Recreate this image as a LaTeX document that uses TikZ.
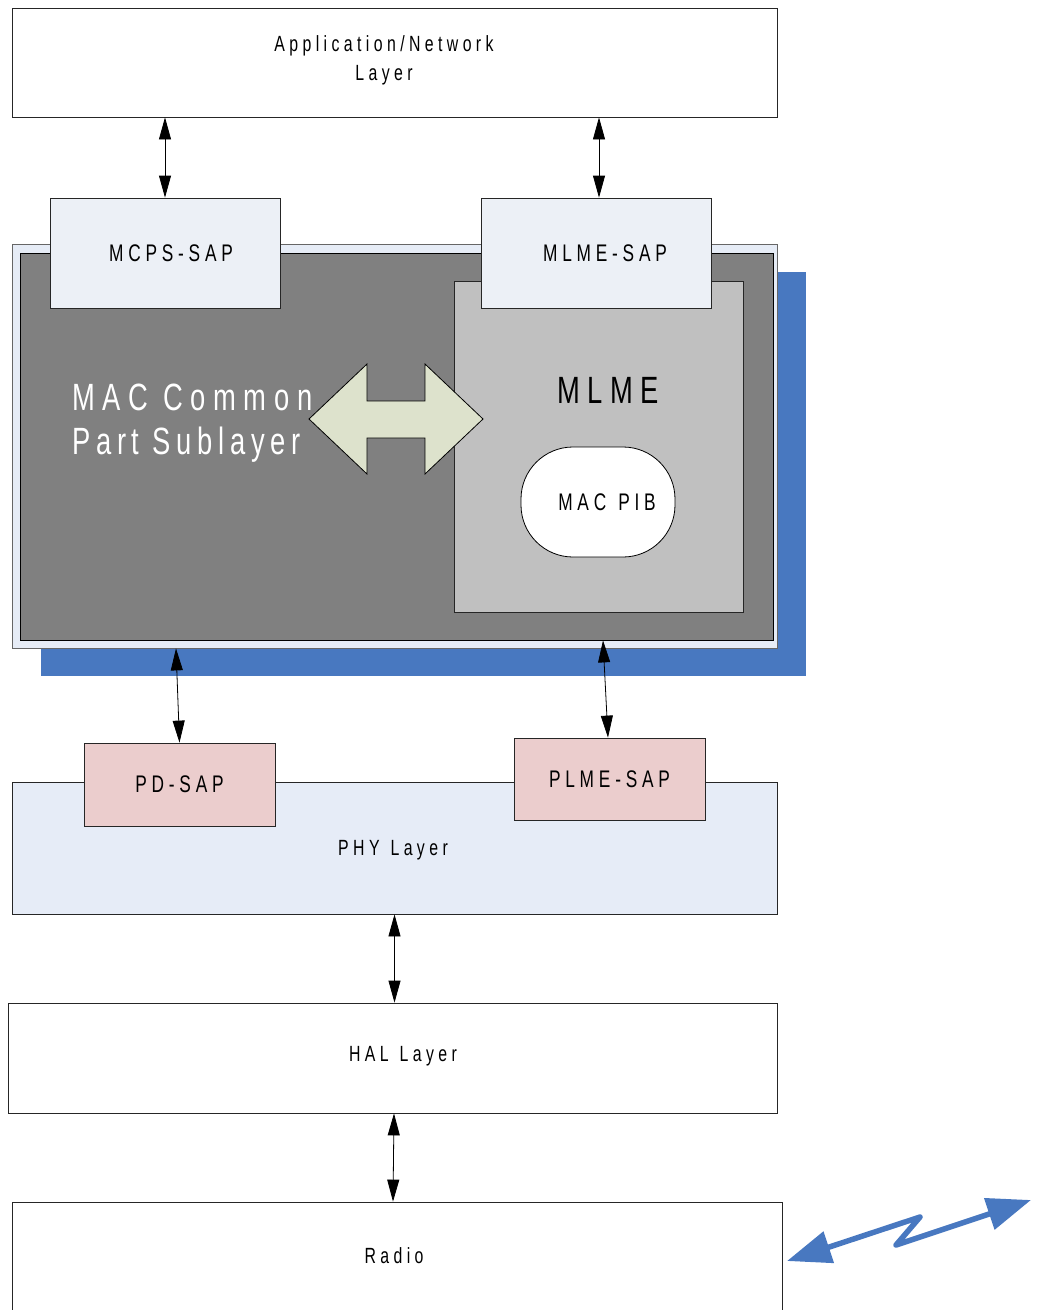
\documentclass[tikz,border=0pt]{standalone}
\usepackage{fontspec}
\newfontfamily\narrowsf[FakeStretch=0.72,LetterSpace=20]{Liberation Sans}
\newcommand\widespace{\spaceskip 0.5em\relax}
\usetikzlibrary{arrows.meta}

\definecolor{sapfill}{RGB}{236,240,246}
\definecolor{macframe}{RGB}{230,236,246}
\definecolor{macdark}{RGB}{128,128,128}
\definecolor{mlmegray}{RGB}{192,192,192}
\definecolor{shadowblue}{RGB}{72,120,192}
\definecolor{phypink}{RGB}{235,205,205}
\definecolor{phyfill}{RGB}{230,236,247}
\definecolor{arrowgreen}{RGB}{221,226,204}

\tikzset{
  box/.style={draw=black!85,line width=0.8pt,inner sep=0pt,align=center},
  txt/.style 2 args={font=\narrowsf\fontsize{#1}{#2}\selectfont},
  widetxt/.style={font=\narrowsf\fontsize{#1}{#1}\selectfont\widespace},
  dbl/.style={line width=0.8pt,{Triangle[length=22pt,width=12pt]}-{Triangle[length=22pt,width=12pt]}},
}

\begin{document}
\begin{tikzpicture}[x=1pt,y=-1pt]
\useasboundingbox (0,0) rectangle (1037,1310);
\clip (0,0) rectangle (1037,1310);

% top layer
\node[box,fill=white,minimum width=765pt,minimum height=109pt] (app) at (394.5,62.5) {};
\node[align=center,txt={22}{29}] (apptxt) at (384,60.5) {Application/Network\\Layer};

% MAC sublayer
\node[fill=shadowblue,minimum width=765pt,minimum height=404pt] (shadow) at (423.5,474) {};
\node[draw=black!60,line width=0.8pt,fill=macframe,minimum width=765pt,minimum height=404pt] (mac) at (394.5,446) {};
\node[draw=black,line width=0.8pt,fill=macdark,minimum width=753pt,minimum height=387pt] (macin) at (396.5,446.5) {};
\node[draw=black!85,line width=0.8pt,fill=mlmegray,minimum width=289pt,minimum height=331pt] (mlme) at (598.5,446.5) {};
\node[txt={38}{44}] (mlmetxt) at (608,390) {MLME};
\node[draw=black,line width=0.8pt,fill=white,rounded corners=52pt,minimum width=154pt,minimum height=110pt] (pib) at (598,502) {};
\node[widetxt=24] (pibtxt) at (607,502) {MAC PIB};
\node[anchor=west,align=left,text=white,txt={38}{44},inner sep=0pt] (mactxt) at (72,423)
  {MAC Common\\\addfontfeature{LetterSpace=15}Part Sublayer};

% double arrow between common part and MLME
\draw[line width=0.8pt,fill=arrowgreen] (309,419) -- (367,364) -- (367,401) -- (425,401) -- (425,364)
  -- (483,419) -- (425,474) -- (425,438) -- (367,438) -- (367,474) -- cycle;

% service access points
\node[box,fill=sapfill,minimum width=230pt,minimum height=110pt] (mcps) at (165,253) {};
\node[txt={24}{30}] (mcpstxt) at (171,253) {MCPS-SAP};
\node[box,fill=sapfill,minimum width=230pt,minimum height=110pt] (mlmesap) at (596,253) {};
\node[txt={24}{30}] (mlmesaptxt) at (605,253) {MLME-SAP};

% PHY layer
\node[box,fill=phyfill,minimum width=765pt,minimum height=132pt] (phy) at (394.5,848) {};
\node[widetxt=22] (phytxt) at (393,850) {PHY Layer};
\node[box,fill=phypink,minimum width=191pt,minimum height=83pt,txt={24}{30}] (pdsap) at (179.5,784.5) {PD-SAP};
\node[box,fill=phypink,minimum width=191pt,minimum height=82pt,txt={24}{30}] (plmesap) at (609.5,779) {PLME-SAP};

% HAL and radio
\node[box,fill=white,minimum width=769pt,minimum height=110pt] (hal) at (392.5,1058) {};
\node[widetxt=22] (haltxt) at (403,1056) {HAL Layer};
\node[box,fill=white,minimum width=770pt,minimum height=116pt] (radio) at (397,1260) {};
\node[txt={22}{29}] (radiotxt) at (394,1256) {Radio};

% links
\draw[dbl] (app.south -| mcps.north) -- (mcps.north);
\draw[dbl] ([xshift=3pt]app.south -| mlmesap.north) -- ([xshift=3pt]mlmesap.north);
\draw[dbl] ([xshift=-3.5pt]pdsap.north |- mac.south) -- (pdsap.north);
\draw[dbl] ([xshift=-6.5pt]plmesap.north |- macin.south) -- ([xshift=-1.5pt]plmesap.north);
\draw[dbl] (phy.south) -- (phy.south |- hal.north);
\draw[dbl] ([xshift=1.5pt]hal.south) -- ([xshift=0.5pt]hal.south |- radio.north);

% radio link
\coordinate (w1) at (787,1261);
\coordinate (w2) at (920,1217);
\coordinate (w3) at (896,1245);
\coordinate (w4) at (1031,1200);
\draw[shadowblue,line width=5.5pt,line join=round,{Triangle[length=44pt,width=32pt]}-{Triangle[length=44pt,width=32pt]}]
  (w1) -- (w2) -- (w3) -- (w4);
\end{tikzpicture}
\end{document}
